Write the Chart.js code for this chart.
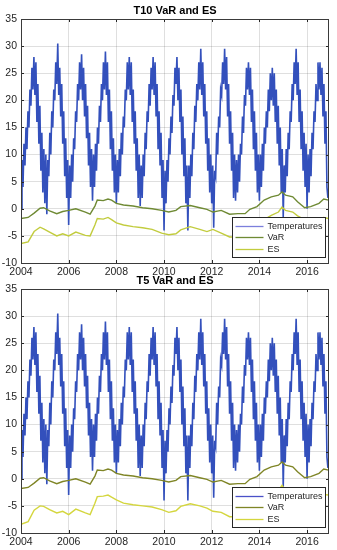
<!DOCTYPE html>
<html>
<head>
<meta charset="utf-8">
<script src="https://cdn.jsdelivr.net/npm/chart.js@4.4.0/dist/chart.umd.min.js"></script>
<style>
  html, body { margin: 0; padding: 0; background: #fff; }
  .box { position: relative; width: 337px; }
  canvas { display: block; }
</style>
</head>
<body>
<div class="box" style="height:276px"><canvas id="c1" width="337" height="276"></canvas></div>
<div class="box" style="height:274px"><canvas id="c2" width="337" height="274"></canvas></div>
<script>
// ---- tick labels ----
const xTickLabels = [2004, 2006, 2008, 2010, 2012, 2014, 2016];
const yTickLabels = [-10, -5, 0, 5, 10, 15, 20, 25, 30, 35];

// ---- temperatures: semi-monthly readings, starting Jan 2004 ----
const tempStartYear = 2004;
const tempPerYear = 24;
const temp2004 = [0, 9, 4, 12, 8, 15, 11, 18, 15, 22, 19, 26, 22, 28, 21, 27, 16, 23, 12, 19, 7, 14, 3, 11];
const temp2005 = [1, 10, -1, 9, 6, 14, 10, 18, 15, 22, 20, 27, 23, 30.5, 21, 26, 17, 23, 12, 18, 6, 13, 2, 9];
const temp2006 = [-3, 8, 2, 10, 5, 13, 11, 18, 16, 23, 20, 27, 22, 28.5, 20, 26, 17, 23, 13, 19, 8, 14, 4, 11];
const temp2007 = [1.5, 10, 4, 12, 7, 15, 12, 19, 16, 23, 20, 27, 22, 29, 21, 27, 16, 22, 11, 18, 7, 13, 3, 10];
const temp2008 = [1, 9, 3, 11, 6, 14, 10, 17, 15, 22, 20, 27, 22, 28, 21, 27, 16, 22, 12, 18, 7, 13, 2, 10];
const temp2009 = [0.5, 8, 2, 10, 6, 14, 11, 18, 16, 23, 19, 26, 22, 28, 21, 27, 17, 23, 11, 18, 8, 14, 2, 9];
const temp2010 = [-4, 7, 1, 9, 5, 13, 10, 17, 14, 21, 19, 26, 23, 28, 20, 26, 16, 22, 10, 17, 6, 13, 1, 8];
const temp2011 = [-4, 8, 2, 10, 6, 14, 11, 19, 16, 23, 20, 27, 22, 29.5, 21, 27, 17, 23, 12, 18, 7, 13, 3, 10];
const temp2012 = [1, 8, -3.5, 7, 6, 14, 10, 17, 15, 22, 21, 27, 23, 29.5, 22, 28, 17, 23, 12, 18, 7, 14, 2, 10];
const temp2013 = [1.5, 9, 3, 10, 5, 12, 10, 17, 14, 21, 19, 26, 22, 27, 21, 26, 16, 22, 11, 18, 7, 14, 3, 10];
const temp2014 = [1.5, 10, 4, 12, 7, 15, 12, 18, 15, 22, 18, 25, 20, 26, 19, 25, 16, 22, 12, 19, 8, 15, 3, 11];
const temp2015 = [-1.5, 8, 3, 11, 6, 14, 11, 18, 16, 23, 20, 27, 23, 29.5, 21, 27, 16, 22, 11, 18, 7, 14, 4, 12];
const temp2016 = [0, 10, 3, 11, 6, 14, 11, 18, 16, 23, 20, 27, 22, 27, 21, 26, 17, 23, 12, 18, 4, 2];
const temperatures = [].concat(temp2004, temp2005, temp2006, temp2007, temp2008, temp2009,
  temp2010, temp2011, temp2012, temp2013, temp2014, temp2015, temp2016);

// ---- VaR / ES (decimal years) ----
const riskYears = [2004.0, 2004.3, 2004.55, 2004.8, 2004.95, 2005.2, 2005.5, 2005.75, 2006.0, 2006.3, 2006.7, 2006.9,
  2007.1, 2007.2, 2007.45, 2007.65, 2007.8, 2008.0, 2008.3, 2008.7, 2009.1, 2009.5, 2009.9, 2010.2, 2010.5, 2010.7,
  2011.1, 2011.5, 2011.8, 2012.05, 2012.4, 2012.75, 2013.1, 2013.4, 2013.6, 2013.9, 2014.2, 2014.5, 2014.8, 2014.95,
  2015.1, 2015.4, 2015.6, 2015.9, 2016.15, 2016.5, 2016.7, 2016.9];
const varT10 = [-1.8, -1.6, -0.8, 0.1, 0.2, -0.4, -0.9, -0.5, -0.3, 0.0, -0.6, -1.0,
  0.5, 1.6, 1.5, 1.8, 1.6, 1.0, 0.7, 0.5, 0.2, 0.0, -0.3, -0.6, -0.3, 0.4,
  0.6, 0.2, -0.1, -0.6, -0.3, -1.0, -0.9, -0.9, -0.1, 0.4, 1.6, 2.2, 2.5, 3.1,
  2.5, 2.2, 1.3, 0.2, 0.4, 1.0, 1.8, 1.6];
const esT10 = [-6.4, -6.1, -4.2, -3.4, -3.7, -4.3, -5.0, -4.6, -5.0, -4.3, -4.9, -5.0,
  -3.0, -1.8, -1.9, -1.6, -2.0, -2.6, -3.0, -3.3, -3.5, -3.8, -4.5, -4.8, -4.6, -3.9,
  -3.3, -3.8, -4.2, -3.8, -4.5, -5.2, -5.2, -5.0, -4.0, -3.3, -2.0, -1.2, -0.6, 0.3,
  -0.3, -0.6, -1.3, -2.0, -2.0, -1.9, -1.6, -1.8];
const varT5 = [-1.8, -1.6, -0.8, 0.1, 0.2, -0.4, -0.9, -0.5, -0.3, 0.0, -0.6, -1.0,
  0.5, 1.6, 1.5, 1.8, 1.6, 1.0, 0.7, 0.5, 0.2, 0.0, -0.3, -0.6, -0.3, 0.4,
  0.6, 0.2, -0.1, -0.6, -0.3, -1.0, -0.9, -0.9, -0.1, 0.4, 1.6, 2.2, 2.5, 3.1,
  2.5, 2.2, 1.3, 0.2, 0.4, 1.0, 1.8, 1.6];
const esT5 = [-8.4, -7.9, -5.8, -5.0, -5.1, -5.7, -6.3, -6.0, -6.6, -5.6, -6.3, -6.6,
  -4.5, -3.3, -3.2, -3.0, -3.4, -3.9, -4.5, -4.8, -5.0, -5.2, -5.7, -6.2, -5.9, -5.1,
  -4.6, -5.0, -5.4, -6.0, -6.2, -7.0, -7.0, -6.8, -5.8, -5.0, -3.8, -2.8, -2.2, -1.2,
  -2.2, -2.6, -3.2, -3.8, -3.6, -3.2, -2.9, -3.0];

const FONT = '"Liberation Sans", Arial, Helvetica, sans-serif';
const AX = '#262626';

const framePlugin = {
  id: 'frame',
  afterDraw(chart) {
    const { ctx, chartArea: a } = chart;
    ctx.save();
    ctx.strokeStyle = AX; ctx.lineWidth = 1;
    const xs = chart.scales.x, ys = chart.scales.y;
    ctx.beginPath();
    xTickLabels.forEach(v => {
      const px = Math.round(xs.getPixelForValue(v)) + 0.5;
      ctx.moveTo(px, a.bottom); ctx.lineTo(px, a.bottom - 3);
      ctx.moveTo(px, a.top); ctx.lineTo(px, a.top + 3);
    });
    yTickLabels.forEach(v => {
      const py = Math.round(ys.getPixelForValue(v)) + 0.5;
      ctx.moveTo(a.left, py); ctx.lineTo(a.left + 3, py);
      ctx.moveTo(a.right, py); ctx.lineTo(a.right - 3, py);
    });
    ctx.stroke();
    ctx.strokeStyle = '#3a3a3a';
    ctx.strokeRect(Math.round(a.left) + 0.5, Math.round(a.top) + 0.5,
      Math.round(a.right - a.left) - 1, Math.round(a.bottom - a.top));
    const t = chart.options.plugins.myTitle;
    ctx.fillStyle = '#000';
    ctx.font = 'bold 11px ' + FONT;
    ctx.textAlign = 'center'; ctx.textBaseline = 'middle';
    ctx.fillText(t.text, (a.left + a.right) / 2, t.y);
    const bw = 93, bh = 40;
    const bx = Math.round(a.right - 4 - bw) + 0.5, by = Math.round(a.bottom - 6 - bh) + 0.5;
    ctx.fillStyle = '#fff';
    ctx.fillRect(bx, by, bw, bh);
    ctx.strokeStyle = AX; ctx.lineWidth = 1;
    ctx.strokeRect(bx, by, bw, bh);
    ctx.font = '9px ' + FONT;
    ctx.textAlign = 'left'; ctx.textBaseline = 'middle';
    chart.data.datasets.forEach((ds, i) => {
      const y = by + 8.5 + i * 11.3;
      ctx.strokeStyle = ds.legendColor || ds.borderColor;
      ctx.lineWidth = 1.3;
      ctx.beginPath(); ctx.moveTo(bx + 3, Math.round(y) + 0.5); ctx.lineTo(bx + 31, Math.round(y) + 0.5); ctx.stroke();
      ctx.fillStyle = AX;
      ctx.fillText(ds.label, bx + 35, y + 0.5);
    });
    ctx.restore();
  }
};

function makeChart(id, title, titleY, padTop, xAxisH, varVals, esVals, colors) {
  const tempData = temperatures.map((v, i) => ({ x: tempStartYear + i / tempPerYear, y: v }));
  const varData = riskYears.map((x, i) => ({ x, y: varVals[i] }));
  const esData = riskYears.map((x, i) => ({ x, y: esVals[i] }));
  return new Chart(document.getElementById(id), {
    type: 'line',
    data: {
      datasets: [
        { label: 'Temperatures', data: tempData, borderColor: colors.temp, legendColor: colors.tempLegend,
          borderWidth: 1.6, pointRadius: 0, tension: 0, order: 10 },
        { label: 'VaR', data: varData, borderColor: colors.var, borderWidth: 1.4, pointRadius: 0, tension: 0, order: 1 },
        { label: 'ES', data: esData, borderColor: colors.es, borderWidth: 1.4, pointRadius: 0, tension: 0, order: 2 }
      ]
    },
    options: {
      responsive: false,
      animation: false,
      events: [],
      layout: { padding: { top: padTop, right: 8, left: 0, bottom: 0 } },
      plugins: { legend: { display: false }, title: { display: false }, tooltip: { enabled: false },
        myTitle: { text: title, y: titleY } },
      scales: {
        x: {
          type: 'linear', min: 2004, max: 2016.92,
          afterBuildTicks: s => { s.ticks = xTickLabels.map(v => ({ value: v })); },
          afterFit: s => { s.height = xAxisH; },
          grid: { color: 'rgba(38,38,38,0.15)', drawTicks: false },
          border: { display: false },
          ticks: { padding: 3, font: { family: FONT, size: 10.5 }, color: AX, maxRotation: 0, autoSkip: false,
            callback: v => String(v) }
        },
        y: {
          type: 'linear', min: -10, max: 35,
          afterBuildTicks: s => { s.ticks = yTickLabels.map(v => ({ value: v })); },
          afterFit: s => { s.width = 21; },
          grid: { color: 'rgba(38,38,38,0.15)', drawTicks: false },
          border: { display: false },
          ticks: { padding: 4, font: { family: FONT, size: 10.5 }, color: AX, callback: v => String(v) }
        }
      }
    },
    plugins: [framePlugin]
  });
}

makeChart('c1', 'T10 VaR and ES', 11, 19, 13, varT10, esT10,
  { temp: '#3350bc', tempLegend: '#7c7fdc', var: '#6f8a34', es: '#c2cc3e' });
makeChart('c2', 'T5 VaR and ES', 5, 13, 17, varT5, esT5,
  { temp: '#3350bc', tempLegend: '#4a50c8', var: '#7f8526', es: '#d4d63e' });
</script>
</body>
</html>
